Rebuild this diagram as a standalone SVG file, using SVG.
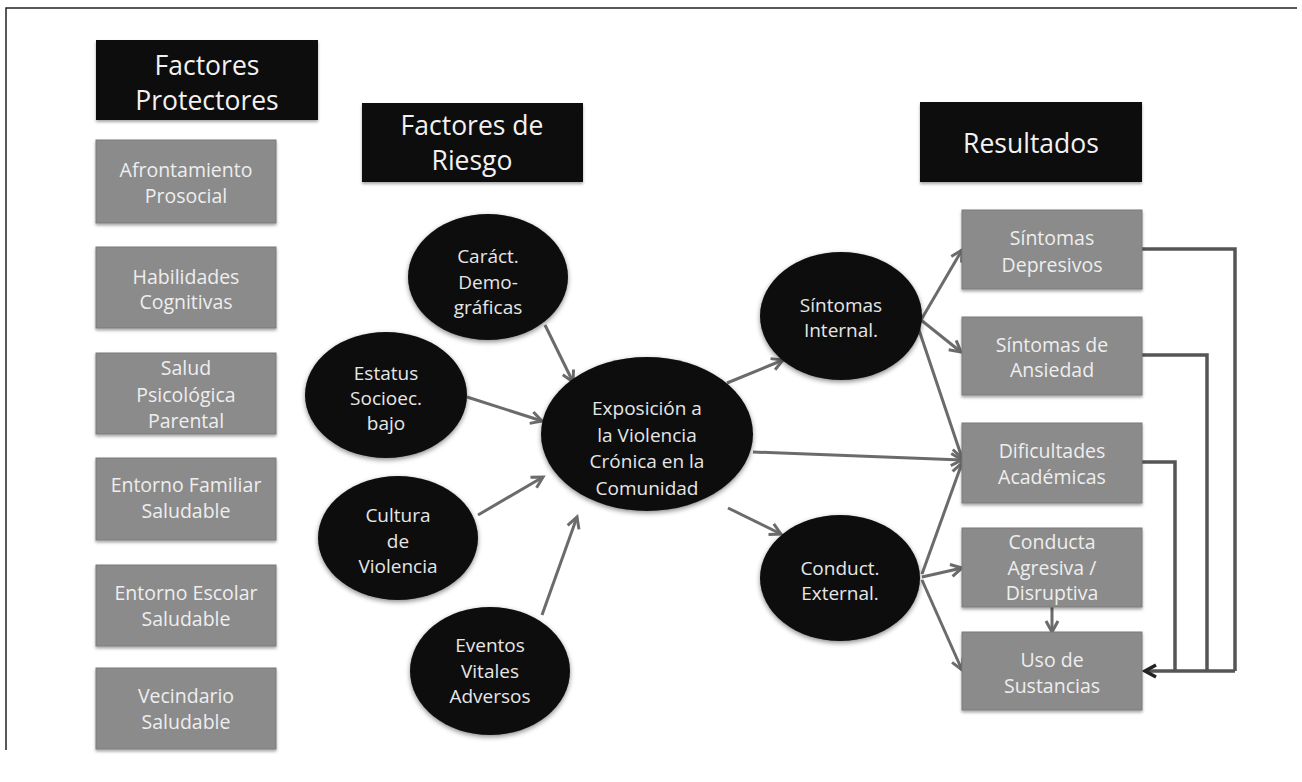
<svg xmlns="http://www.w3.org/2000/svg" width="1302" height="782" viewBox="0 0 1302 782">
  <defs>
    <filter id="shadow" x="-10%" y="-10%" width="120%" height="130%">
      <feDropShadow dx="0" dy="2" stdDeviation="1.5" flood-color="#000" flood-opacity="0.35"/>
    </filter>
    <filter id="soft" x="-10%" y="-10%" width="120%" height="125%">
      <feGaussianBlur in="SourceAlpha" stdDeviation="2.5" result="b"/>
      <feOffset dy="2" result="o"/>
      <feFlood flood-color="#000" flood-opacity="0.45"/>
      <feComposite in2="o" operator="in" result="s"/>
      <feMerge><feMergeNode in="s"/><feMergeNode in="SourceGraphic"/></feMerge>
    </filter>
    <marker id="arr" markerUnits="userSpaceOnUse" markerWidth="16" markerHeight="16" refX="13" refY="8" orient="auto" overflow="visible">
      <path d="M2,2 L13,8 L2,14" fill="none" stroke="#6b6b6b" stroke-width="3" stroke-linejoin="miter"/>
    </marker>
    <marker id="arrDark" markerUnits="userSpaceOnUse" markerWidth="16" markerHeight="16" refX="13" refY="8" orient="auto" overflow="visible">
      <path d="M2,2 L13,8 L2,14" fill="none" stroke="#222" stroke-width="3.5"/>
    </marker>
    <style>
      .hdr { fill: #0c0c0c; filter: url(#shadow); }
      .box { fill: #8b8b8b; stroke: #7a7a7a; stroke-width: 1; filter: url(#shadow); }
      .ell { fill: #0a0a0a; filter: url(#soft); }
      .ht { font-family: "Open Sans", "Liberation Sans", sans-serif; font-size: 26.5px; fill: #f2f2f2; text-anchor: middle; }
      .bt { font-family: "Open Sans", "Liberation Sans", sans-serif; font-size: 19.5px; fill: #eeeeee; text-anchor: middle; }
      .et { font-family: "Open Sans", "Liberation Sans", sans-serif; font-size: 19px; fill: #e6e6e6; text-anchor: middle; }
      .con { fill: none; stroke: #6b6b6b; stroke-width: 3; marker-end: url(#arr); }
      .fb { fill: none; stroke: #555; stroke-width: 3.5; }
    </style>
  </defs>
  <rect width="1302" height="782" fill="#ffffff"/>
  <path d="M6,750 V8 H1297" fill="none" stroke="#222" stroke-width="1.5"/>

  <!-- Headers -->
  <g id="hdr-protectores">
    <rect class="hdr" x="96" y="40" width="222" height="80"/>
    <text class="ht" x="207" y="75">Factores</text>
    <text class="ht" x="207" y="110">Protectores</text>
  </g>
  <g id="hdr-riesgo">
    <rect class="hdr" x="362" y="103" width="221" height="79"/>
    <text class="ht" x="472" y="135">Factores de</text>
    <text class="ht" x="472" y="170">Riesgo</text>
  </g>
  <g id="hdr-resultados">
    <rect class="hdr" x="920" y="102" width="222" height="80"/>
    <text class="ht" x="1031" y="153">Resultados</text>
  </g>

  <!-- Protective factors -->
  <g id="p1">
    <rect class="box" x="96" y="140" width="180" height="83"/>
    <text class="bt" x="186" y="177">Afrontamiento</text>
    <text class="bt" x="186" y="203">Prosocial</text>
  </g>
  <g id="p2">
    <rect class="box" x="96" y="247" width="180" height="81"/>
    <text class="bt" x="186" y="284">Habilidades</text>
    <text class="bt" x="186" y="309">Cognitivas</text>
  </g>
  <g id="p3">
    <rect class="box" x="96" y="353" width="180" height="81"/>
    <text class="bt" x="186" y="375">Salud</text>
    <text class="bt" x="186" y="402">Psicológica</text>
    <text class="bt" x="186" y="428">Parental</text>
  </g>
  <g id="p4">
    <rect class="box" x="96" y="458" width="180" height="82"/>
    <text class="bt" x="186" y="492">Entorno Familiar</text>
    <text class="bt" x="186" y="518">Saludable</text>
  </g>
  <g id="p5">
    <rect class="box" x="96" y="565" width="180" height="81"/>
    <text class="bt" x="186" y="600">Entorno Escolar</text>
    <text class="bt" x="186" y="626">Saludable</text>
  </g>
  <g id="p6">
    <rect class="box" x="96" y="668" width="180" height="81"/>
    <text class="bt" x="186" y="703">Vecindario</text>
    <text class="bt" x="186" y="729">Saludable</text>
  </g>

  <!-- Connectors -->
  <g id="connectors">
    <path class="con" d="M545,325 L573,382"/>
    <path class="con" d="M467,397 L542,421"/>
    <path class="con" d="M478,515 L543,477"/>
    <path class="con" d="M542,615 L577,517"/>
    <path class="con" d="M727,383 L783,360"/>
    <path class="con" d="M753,452 L962,460"/>
    <path class="con" d="M728,508 L781,534"/>
    <path class="con" d="M921,320 L962,250"/>
    <path class="con" d="M921,320 L961,352"/>
    <path class="con" d="M917,324 L962,458"/>
    <path class="con" d="M922,574 L962,463"/>
    <path class="con" d="M922,577 L962,568"/>
    <path class="con" d="M922,580 L962,670"/>
    <path class="con" d="M1052,607 L1052,632"/>
    <path class="fb" d="M1142,249 H1235 V671"/>
    <path class="fb" d="M1142,355 H1207 V671"/>
    <path class="fb" d="M1142,462 H1175 V671"/>
    <path class="fb" d="M1235,671 H1145" marker-end="url(#arrDark)"/>
  </g>

  <!-- Risk factors -->
  <g id="r-demograficas">
    <ellipse class="ell" cx="488" cy="277" rx="80" ry="63"/>
    <text class="et" x="488" y="263">Caráct.</text>
    <text class="et" x="488" y="289">Demo-</text>
    <text class="et" x="488" y="314">gráficas</text>
  </g>
  <g id="r-estatus">
    <ellipse class="ell" cx="386" cy="395" rx="81" ry="63"/>
    <text class="et" x="386" y="380">Estatus</text>
    <text class="et" x="386" y="405">Socioec.</text>
    <text class="et" x="386" y="430">bajo</text>
  </g>
  <g id="r-cultura">
    <ellipse class="ell" cx="398" cy="538" rx="80" ry="62"/>
    <text class="et" x="398" y="522">Cultura</text>
    <text class="et" x="398" y="548">de</text>
    <text class="et" x="398" y="573">Violencia</text>
  </g>
  <g id="r-eventos">
    <ellipse class="ell" cx="490" cy="671" rx="80" ry="64"/>
    <text class="et" x="490" y="652">Eventos</text>
    <text class="et" x="490" y="678">Vitales</text>
    <text class="et" x="490" y="703">Adversos</text>
  </g>
  <g id="exposicion">
    <ellipse class="ell" cx="647" cy="434" rx="106" ry="77"/>
    <text class="et" x="647" y="415">Exposición a</text>
    <text class="et" x="647" y="442">la Violencia</text>
    <text class="et" x="647" y="468">Crónica en la</text>
    <text class="et" x="647" y="495">Comunidad</text>
  </g>
  <g id="internal">
    <ellipse class="ell" cx="841" cy="316" rx="81" ry="64"/>
    <text class="et" x="841" y="312">Síntomas</text>
    <text class="et" x="841" y="337">Internal.</text>
  </g>
  <g id="external">
    <ellipse class="ell" cx="840" cy="578" rx="80" ry="63"/>
    <text class="et" x="840" y="575">Conduct.</text>
    <text class="et" x="840" y="600">External.</text>
  </g>

  <!-- Outcomes -->
  <g id="o-depresivos">
    <rect class="box" x="962" y="210" width="180" height="79"/>
    <text class="bt" x="1052" y="245">Síntomas</text>
    <text class="bt" x="1052" y="272">Depresivos</text>
  </g>
  <g id="o-ansiedad">
    <rect class="box" x="962" y="317" width="180" height="78"/>
    <text class="bt" x="1052" y="352">Síntomas de</text>
    <text class="bt" x="1052" y="377">Ansiedad</text>
  </g>
  <g id="o-academicas">
    <rect class="box" x="962" y="423" width="180" height="80"/>
    <text class="bt" x="1052" y="458">Dificultades</text>
    <text class="bt" x="1052" y="484">Académicas</text>
  </g>
  <g id="o-conducta">
    <rect class="box" x="962" y="528" width="180" height="79"/>
    <text class="bt" x="1052" y="549">Conducta</text>
    <text class="bt" x="1052" y="575">Agresiva /</text>
    <text class="bt" x="1052" y="600">Disruptiva</text>
  </g>
  <g id="o-sustancias">
    <rect class="box" x="962" y="632" width="180" height="78"/>
    <text class="bt" x="1052" y="667">Uso de</text>
    <text class="bt" x="1052" y="693">Sustancias</text>
  </g>
</svg>
